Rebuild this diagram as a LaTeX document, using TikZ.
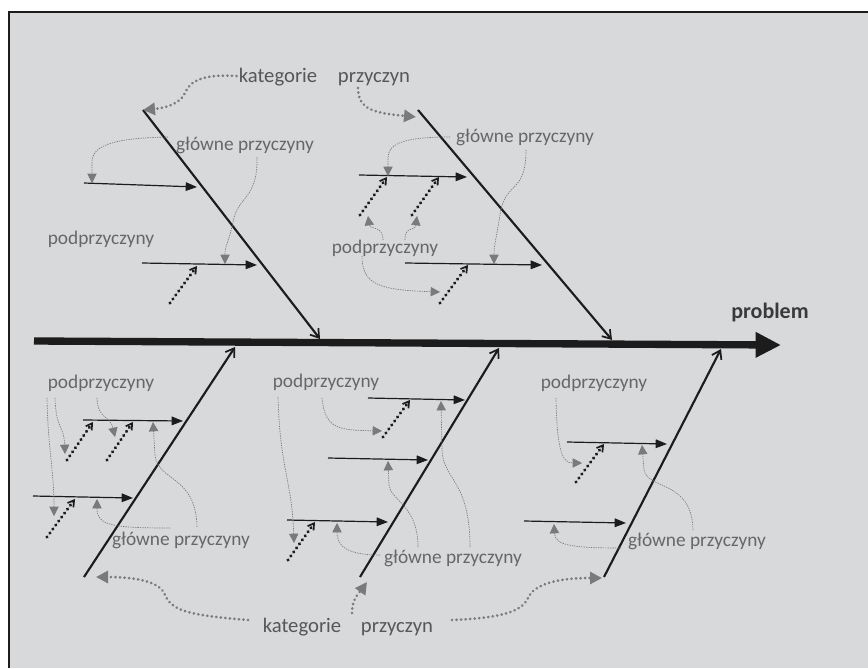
\documentclass[tikz,border=0pt]{standalone}
\usepackage{fontspec}
\setmainfont{Carlito}
\usepackage{tikz}
\usetikzlibrary{arrows.meta,calc}
\definecolor{paper}{HTML}{D8D9DB}
\definecolor{ink}  {HTML}{1C1C1C}
\definecolor{fog}  {HTML}{7A7A7A}
\definecolor{smoke}{HTML}{676767}
\definecolor{ash}  {HTML}{575757}
\definecolor{coal} {HTML}{3A3A3A}

\begin{document}
\begin{tikzpicture}[x=0.75pt,y=-0.75pt,
  bone/.style={ink,line width=1.6pt,-{Straight Barb[length=6pt,width=8pt,line width=1.3pt]}},
  rib/.style={ink,line width=0.9pt,-{Triangle[length=8.5pt,width=6.5pt]}},
  sub/.style={ink,line width=2.6pt,line cap=round,dash pattern=on 0.01pt off 3.7pt,
              -{Straight Barb[length=4.5pt,width=5.5pt,line width=1.3pt]}},
  note/.style={fog,line width=0.5pt,dash pattern=on 1pt off 0.8pt,-{Triangle[length=7pt,width=7pt]}},
  catline/.style={fog,line width=2.2pt,line cap=round,dash pattern=on 0.01pt off 3.4pt,
              -{Triangle[length=9pt,width=9pt]}},
  lab/.style={text=smoke,font=\fontsize{14.5}{16}\selectfont,inner sep=0pt},
  cat/.style={text=ash,font=\fontsize{15.5}{17}\selectfont,inner sep=0pt},
  prob/.style={text=coal,font=\fontsize{16.5}{18}\selectfont\bfseries,inner sep=0pt}]
\useasboundingbox (0,0) rectangle (868,668);
% frame
\fill[white] (0,0) rectangle (868,668);
\fill[paper] (9,12) rectangle (868,668);
\draw[ink,line width=2.2pt] (9,668) -- (9,12) -- (868,12);

% spine and bones
\coordinate (sp-s) at (34,341);
\coordinate (sp-t) at (781,345);
\coordinate (ub1-s) at (143,110);
\coordinate (ub1-t) at (320,339);
\coordinate (ub2-s) at (418,110);
\coordinate (ub2-t) at (612,340);
\coordinate (lb1-s) at (84,577);
\coordinate (lb1-t) at (235,347);
\coordinate (lb2-s) at (360,577);
\coordinate (lb2-t) at (499,348);
\coordinate (lb3-s) at (604,577);
\coordinate (lb3-t) at (721,349);
\draw[ink,line width=5.5pt,-{Triangle[length=19pt,width=18pt]}] (sp-s) -- (sp-t);
\draw[bone] (ub1-s) -- (ub1-t);
\draw[bone] (ub2-s) -- (ub2-t);
\draw[bone] (lb1-s) -- (lb1-t);
\draw[bone] (lb2-s) -- (lb2-t);
\draw[bone] (lb3-s) -- (lb3-t);

% ribs
\coordinate (ub1-a0) at (84,183);  \coordinate (ub1-a1) at (197,187);
\coordinate (ub1-b0) at (142,263); \coordinate (ub1-b1) at (257,265);
\coordinate (ub2-a0) at (359,175); \coordinate (ub2-a1) at (467,177);
\coordinate (ub2-b0) at (405,263); \coordinate (ub2-b1) at (542,265);
\coordinate (lb1-a0) at (83,420);  \coordinate (lb1-a1) at (183,421);
\coordinate (lb1-b0) at (33,496);  \coordinate (lb1-b1) at (133,498);
\coordinate (lb2-a0) at (368,398); \coordinate (lb2-a1) at (465,400);
\coordinate (lb2-b0) at (328,458); \coordinate (lb2-b1) at (428,460);
\coordinate (lb2-c0) at (287,520); \coordinate (lb2-c1) at (388,522);
\coordinate (lb3-a0) at (567,442); \coordinate (lb3-a1) at (667,444);
\coordinate (lb3-b0) at (524,521); \coordinate (lb3-b1) at (626,523);
\draw[rib] (ub1-a0) -- (ub1-a1);
\draw[rib] (ub1-b0) -- (ub1-b1);
\draw[rib] (ub2-a0) -- (ub2-a1);
\draw[rib] (ub2-b0) -- (ub2-b1);
\draw[rib] (lb1-a0) -- (lb1-a1);
\draw[rib] (lb1-b0) -- (lb1-b1);
\draw[rib] (lb2-a0) -- (lb2-a1);
\draw[rib] (lb2-b0) -- (lb2-b1);
\draw[rib] (lb2-c0) -- (lb2-c1);
\draw[rib] (lb3-a0) -- (lb3-a1);
\draw[rib] (lb3-b0) -- (lb3-b1);

% dotted sub-causes
\coordinate (ub1-d0) at (170,303); \coordinate (ub1-d1) at (197,266);
\coordinate (ub2-d0) at (360,215); \coordinate (ub2-d1) at (387,177);
\coordinate (ub2-e0) at (412,215); \coordinate (ub2-e1) at (439,177);
\coordinate (ub2-f0) at (440,303); \coordinate (ub2-f1) at (468,265);
\coordinate (lb1-d0) at (67,460);  \coordinate (lb1-d1) at (93,422);
\coordinate (lb1-e0) at (107,460); \coordinate (lb1-e1) at (133,422);
\coordinate (lb1-f0) at (47,537);  \coordinate (lb1-f1) at (75,499);
\coordinate (lb2-d0) at (383,437); \coordinate (lb2-d1) at (410,400);
\coordinate (lb2-e0) at (288,560); \coordinate (lb2-e1) at (315,522);
\coordinate (lb3-d0) at (576,482); \coordinate (lb3-d1) at (604,444);
\draw[sub] (ub1-d0) -- (ub1-d1);
\draw[sub] (ub2-d0) -- (ub2-d1);
\draw[sub] (ub2-e0) -- (ub2-e1);
\draw[sub] (ub2-f0) -- (ub2-f1);
\draw[sub] (lb1-d0) -- (lb1-d1);
\draw[sub] (lb1-e0) -- (lb1-e1);
\draw[sub] (lb1-f0) -- (lb1-f1);
\draw[sub] (lb2-d0) -- (lb2-d1);
\draw[sub] (lb2-e0) -- (lb2-e1);
\draw[sub] (lb3-d0) -- (lb3-d1);

% labels
\node[prob] (prob) at (770,313) {problem};
\node[cat] (kat-t) at (278,77) {kategorie};
\node[cat] (prz-t) at (374,79) {przyczyn};
\node[cat] (kat-b) at (302,627) {kategorie};
\node[cat] (prz-b) at (397,629) {przyczyn};
\node[lab] (glo-ul) at (245,145) {główne przyczyny};
\node[lab] (glo-um) at (525,137) {główne przyczyny};
\node[lab] (glo-ll) at (181,540) {główne przyczyny};
\node[lab] (glo-lm) at (453,558) {główne przyczyny};
\node[lab] (glo-lr) at (697,541) {główne przyczyny};
\node[lab] (pod-ul) at (101,239) {podprzyczyny};
\node[lab] (pod-um) at (385,248) {podprzyczyny};
\node[lab] (pod-ll) at (101,383) {podprzyczyny};
\node[lab] (pod-lm) at (326,382) {podprzyczyny};
\node[lab] (pod-lr) at (594,383) {podprzyczyny};

% arrow targets
\coordinate (tk2) at (416,117);
\coordinate (bk1) at (96,577);
\coordinate (bk2) at (367,582);
\coordinate (bk3) at (602,578);
\coordinate (n-ul1) at (92,183);
\coordinate (n-ul2) at (225,264);
\coordinate (n-um1) at (388,176);
\coordinate (n-um2) at (494,264);
\coordinate (p-um1) at (368,216);
\coordinate (p-um2) at (417,216);
\coordinate (p-um3) at (440,292);
\coordinate (p-ll1) at (54,516);
\coordinate (p-ll2) at (65,454);
\coordinate (p-ll3) at (115,437);
\coordinate (n-ll1) at (97,499);
\coordinate (n-ll2) at (153,422);
\coordinate (p-lm1) at (294,543);
\coordinate (p-lm2) at (382,431);
\coordinate (n-lm1) at (337,523);
\coordinate (n-lm2) at (388,461);
\coordinate (n-lm3) at (441,401);
\coordinate (p-lr1) at (582,463);
\coordinate (n-lr1) at (554,524);
\coordinate (n-lr2) at (642,445);

% category pointers
\draw[catline] ($(kat-t.west)+(-2,-1)$) .. controls (205,74) and (190,80) .. (185,93)
  .. controls (180,104) and (165,108) .. (ub1-s);
\draw[catline] ($(prz-t)+(-16,9)$) .. controls (358,110) and (375,113) .. (tk2);
\draw[catline] ($(kat-b)+(-54,-7)$) .. controls (185,615) and (172,610) .. (165,595)
  .. controls (160,580) and (130,577) .. (bk1);
\draw[catline] ($(prz-b)+(-45,-16)$) .. controls (352,598) and (360,592) .. (bk2);
\draw[catline] ($(prz-b)+(55,-9)$) .. controls (500,618) and (522,612) .. (528,598)
  .. controls (535,583) and (560,578) .. (bk3);

% main cause pointers
\draw[note] ($(glo-ul)+(-77,-8)$) .. controls (115,138) and (92,145) .. (92,162) -- (n-ul1);
\draw[note] ($(glo-ul)+(12,12)$) .. controls (258,200) and (238,195) .. (233,222)
  .. controls (228,245) and (225,245) .. (n-ul2);
\draw[note] ($(glo-um)+(-75,0)$) .. controls (400,137) and (388,145) .. (388,158) -- (n-um1);
\draw[note] ($(glo-um)+(1,13)$) .. controls (526,195) and (505,180) .. (500,215)
  .. controls (496,240) and (494,245) .. (n-um2);
\draw[note] ($(glo-ll)+(-11,-12)$) .. controls (110,528) and (97,525) .. (n-ll1);
\draw[note] ($(glo-ll)+(16,-13)$) .. controls (196,475) and (158,482) .. (155,455) -- (n-ll2);
\draw[note] ($(glo-lm)+(-73,-3)$) .. controls (345,555) and (337,545) .. (n-lm1);
\draw[note] ($(glo-lm)+(-35,-11)$) .. controls (418,505) and (390,500) .. (389,485) -- (n-lm2);
\draw[note] ($(glo-lm)+(17,-11)$) .. controls (470,480) and (443,480) .. (442,450) -- (n-lm3);
\draw[note] ($(glo-lr)+(-76,7)$) .. controls (570,548) and (555,545) .. (n-lr1);
\draw[note] ($(glo-lr)+(-4,-11)$) .. controls (692,480) and (648,490) .. (644,470) -- (n-lr2);

% sub cause pointers
\draw[note] ($(pod-um)+(-2,-8)$) .. controls (383,225) and (370,230) .. (p-um1);
\draw[note] ($(pod-um)+(20,-8)$) .. controls (405,225) and (415,232) .. (p-um2);
\draw[note] ($(pod-um)+(-23,8)$) .. controls (362,285) and (380,290) .. (p-um3);
\draw[note] ($(pod-ll)+(-54,15)$) .. controls (48,450) and (54,470) .. (p-ll1);
\draw[note] ($(pod-ll)+(-46,15)$) .. controls (56,430) and (64,425) .. (p-ll2);
\draw[note] ($(pod-ll)+(-4,15)$) .. controls (98,420) and (110,415) .. (p-ll3);
\draw[note] ($(pod-lm)+(-48,15)$) .. controls (280,470) and (292,480) .. (p-lm1);
\draw[note] ($(pod-lm)+(-4,16)$) .. controls (325,430) and (340,430) .. (p-lm2);
\draw[note] ($(pod-lr)+(-38,15)$) .. controls (557,450) and (562,463) .. (p-lr1);
\end{tikzpicture}
\end{document}
